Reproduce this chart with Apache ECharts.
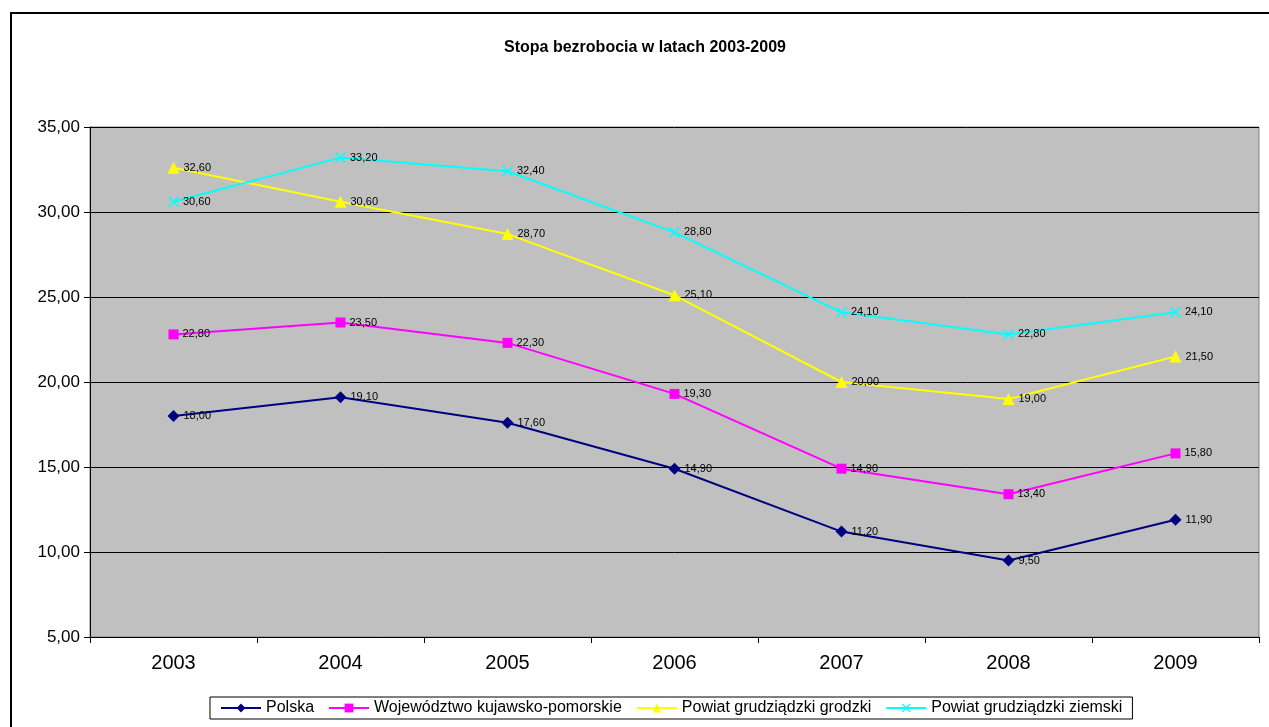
<!DOCTYPE html>
<html>
<head>
<meta charset="utf-8">
<script src="https://cdn.jsdelivr.net/npm/echarts@6/dist/echarts.min.js"></script>
<style>
  html, body { margin: 0; padding: 0; background: #fff; }
  #chart { width: 1269px; height: 727px; }
</style>
</head>
<body>
<div id="chart"></div>
<script>
const years = ['2003', '2004', '2005', '2006', '2007', '2008', '2009'];
const polska = [18.0, 19.1, 17.6, 14.9, 11.2, 9.5, 11.9];
const wojewodztwo = [22.8, 23.5, 22.3, 19.3, 14.9, 13.4, 15.8];
const powiatGrodzki = [32.6, 30.6, 28.7, 25.1, 20.0, 19.0, 21.5];
const powiatZiemski = [30.6, 33.2, 32.4, 28.8, 24.1, 22.8, 24.1];

const font = 'Arial, "Liberation Sans", sans-serif';
const fmt = v => v.toFixed(2).replace('.', ',');
const crossPath = 'path://M0,1L1,0L5,4L9,0L10,1L6,5L10,9L9,10L5,6L1,10L0,9L4,5Z';

function makeSeries(name, data, color, symbol, size) {
  return {
    name: name,
    type: 'line',
    data: data,
    symbol: symbol,
    symbolSize: size,
    showAllSymbol: true,
    animation: false,
    lineStyle: { color: color, width: 2 },
    itemStyle: { color: color },
    label: {
      show: true,
      position: 'right',
      distance: 4,
      color: '#000',
      fontSize: 11,
      fontFamily: font,
      formatter: p => fmt(p.value)
    },
    emphasis: { disabled: true }
  };
}

const chart = echarts.init(document.getElementById('chart'));
chart.setOption({
  backgroundColor: '#fff',
  title: {
    text: 'Stopa bezrobocia w latach 2003-2009',
    left: 640,
    textAlign: 'center',
    top: 35,
    textStyle: { fontSize: 16, fontWeight: 'bold', color: '#000', fontFamily: font }
  },
  graphic: [{
    type: 'rect',
    shape: { x: 11, y: 13, width: 1400, height: 900 },
    style: { fill: 'none', stroke: '#000', lineWidth: 2 },
    silent: true
  }],
  grid: {
    left: 90, top: 127, right: 10, bottom: 90,
    show: true,
    backgroundColor: '#C0C0C0',
    borderColor: '#808080',
    borderWidth: 1
  },
  legend: {
    left: 210,
    top: 697,
    itemWidth: 40,
    itemHeight: 11,
    itemGap: 14,
    padding: [3, 10, 3, 10],
    borderColor: '#000',
    borderWidth: 1,
    textStyle: { fontSize: 16, color: '#000', fontFamily: font },
    data: ['Polska', 'Województwo kujawsko-pomorskie', 'Powiat grudziądzki grodzki', 'Powiat grudziądzki ziemski']
  },
  xAxis: {
    type: 'category',
    data: years,
    boundaryGap: true,
    axisLine: { lineStyle: { color: '#000', width: 1 } },
    axisTick: { show: true, length: 6, lineStyle: { color: '#000' } },
    axisLabel: { fontSize: 20, color: '#000', margin: 16, fontFamily: font },
    splitLine: { show: false }
  },
  yAxis: {
    type: 'value',
    min: 5,
    max: 35,
    interval: 5,
    axisLine: { show: true, lineStyle: { color: '#000', width: 1 } },
    axisTick: { show: true, length: 6, lineStyle: { color: '#000' } },
    axisLabel: { fontSize: 17, color: '#000', margin: 10, fontFamily: font, formatter: v => fmt(v) },
    splitLine: { show: true, lineStyle: { color: '#000', width: 1 } }
  },
  series: [
    makeSeries('Polska', polska, '#000080', 'diamond', 12),
    makeSeries('Województwo kujawsko-pomorskie', wojewodztwo, '#FF00FF', 'rect', 10),
    makeSeries('Powiat grudziądzki grodzki', powiatGrodzki, '#FFFF00', 'triangle', 12),
    makeSeries('Powiat grudziądzki ziemski', powiatZiemski, '#00FFFF', crossPath, 11)
  ]
});
</script>
</body>
</html>
